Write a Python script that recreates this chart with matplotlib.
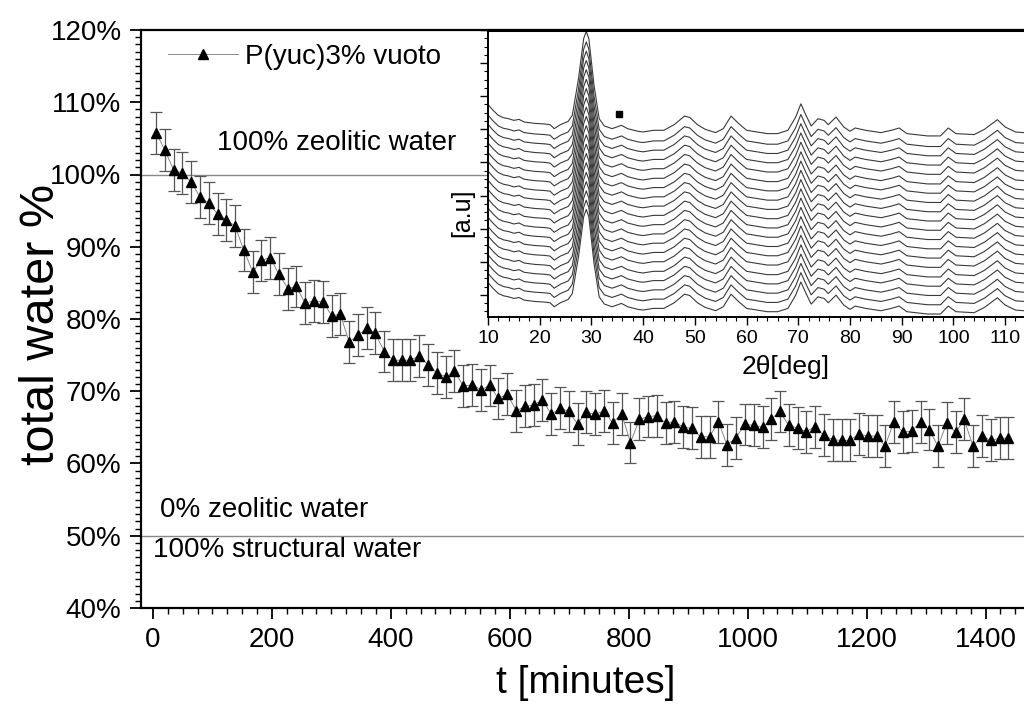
import numpy as np
import matplotlib
matplotlib.use("Agg")
import matplotlib.pyplot as plt
import matplotlib.ticker as ticker

plt.rcParams["font.family"] = ["Liberation Sans", "DejaVu Sans"]

# main series: time [min] vs total water [%]
t_min = [5, 20, 35, 49, 64, 79, 94, 109, 123, 138,
         153, 168, 182, 197, 212, 227, 241, 256, 271, 286,
         301, 315, 330, 345, 360, 374, 389, 404, 419, 433,
         448, 463, 478, 493, 507, 522, 537, 552, 566, 581,
         596, 611, 626, 640, 655, 670, 685, 699, 714, 729,
         744, 759, 773, 788, 803, 818, 832, 847, 862, 877,
         892, 906, 921, 936, 951, 965, 980, 995, 1010, 1025,
         1039, 1054, 1069, 1084, 1098, 1113, 1128, 1143, 1158, 1172,
         1187, 1202, 1217, 1231, 1246, 1261, 1276, 1291, 1305, 1320,
         1335, 1350, 1364, 1379, 1394, 1409, 1424, 1438]
water = [105.8, 103.4, 100.6, 100.2, 99.0, 96.9, 96.0, 94.5, 93.7, 92.9,
         89.5, 86.5, 88.1, 88.5, 86.2, 84.2, 84.5, 82.2, 82.5, 82.4,
         80.4, 80.7, 76.8, 77.8, 78.7, 78.0, 75.5, 74.3, 74.3, 74.3,
         74.9, 73.6, 72.5, 72.0, 72.8, 70.7, 70.9, 70.2, 70.8, 69.0,
         69.6, 67.3, 67.9, 68.1, 68.8, 66.8, 67.7, 67.2, 65.5, 67.1,
         66.8, 67.3, 65.6, 66.9, 62.9, 66.1, 66.5, 66.6, 65.6, 65.8,
         65.0, 64.9, 63.7, 63.7, 65.8, 62.6, 63.5, 65.4, 65.3, 65.0,
         66.1, 67.2, 65.3, 64.9, 64.4, 65.1, 63.9, 63.3, 63.2, 63.2,
         64.1, 63.8, 63.8, 62.4, 65.8, 64.3, 64.5, 65.8, 64.7, 62.4,
         65.6, 64.3, 66.1, 62.4, 63.8, 63.2, 63.5, 63.5]
water_err = 2.9

# inset: XRD pattern (relative to baseline) and stacking offsets
two_theta = [10, 11, 12, 13, 14, 15, 16, 17, 18, 19, 20, 21, 22, 22.8, 24,
             25.5, 26.3, 27.5, 28.5, 29, 29.5, 30.5, 31.5, 32.5, 34, 35.8,
             37, 39, 40, 42, 44, 46, 48, 49, 50.5, 52, 54, 55.5, 57, 58.5,
             60, 62, 64, 66, 68, 69.5, 70.5, 71.5, 72.5, 73.8, 75, 75.8,
             77.3, 78.8, 80, 81, 83, 86, 88, 89.5, 91, 95, 97.5, 99, 100.5,
             104, 106, 108.5, 110, 112, 116]
intensity = [0.83, 0.65, 0.50, 0.43, 0.40, 0.35, 0.38, 0.30, 0.28, 0.26,
             0.25, 0.24, 0.22, 0.10, 0.22, 0.32, 0.50, 1.61, 2.82, 3.04,
             2.82, 1.41, 0.40, 0.18, 0.10, 0.20, 0.10, 0.02, 0.0, 0.05,
             0.05, 0.22, 0.48, 0.44, 0.22, 0.08, -0.02, 0.10, 0.48, 0.25,
             0.05, 0.0, -0.05, -0.05, 0.05, 0.45, 0.85, 0.50, 0.18, 0.40,
             0.35, 0.22, 0.45, 0.15, 0.02, 0.12, 0.05, -0.02, 0.05, 0.12,
             -0.05, -0.12, -0.12, 0.12, -0.05, -0.08, 0.08, 0.37, 0.15, 0.0,
             -0.05]
offsets = [0.54, 0.82, 1.10, 1.38, 1.66, 1.95, 2.23, 2.51, 2.79, 3.07,
           3.35, 3.63, 3.91, 4.19, 4.47, 4.76, 5.04, 5.32, 5.60, 5.92]
marker_pos = (35.3, 6.45)

W, H = 1024, 708
fig = plt.figure(figsize=(W / 100, H / 100), dpi=100)

# main axes (right edge runs past the picture, as in the reference)
ax = fig.add_axes([141 / W, 1 - 608 / H, (1045 - 141) / W, (608 - 30) / H])
ax.errorbar(t_min, water, yerr=water_err, fmt="none", ecolor="#555555",
            elinewidth=0.9, capsize=4.5, capthick=0.9, zorder=2)
ax.plot(t_min, water, color="#777777", lw=0.6, marker="^", ms=7,
        mfc="black", mec="black", label="P(yuc)3% vuoto", zorder=3)

ax.axhline(100, color="#888888", lw=1.0, zorder=1)
ax.axhline(50, color="#888888", lw=1.0, zorder=1)
ax.text(108, 104.4, "100% zeolitic water", fontsize=20, va="center")
ax.text(12, 53.6, "0% zeolitic water", fontsize=20, va="center")
ax.text(0, 48.0, "100% structural water", fontsize=20, va="center")

ax.set_xlim(-20, 1500)
ax.set_ylim(40, 120)
ax.xaxis.set_major_locator(ticker.MultipleLocator(200))
ax.xaxis.set_minor_locator(ticker.MultipleLocator(25))
ax.yaxis.set_major_locator(ticker.MultipleLocator(10))
ax.yaxis.set_minor_locator(ticker.MultipleLocator(1))
ax.yaxis.set_major_formatter(ticker.FuncFormatter(lambda v, _: f"{v:.0f}%"))
ax.tick_params(which="major", direction="out", length=8, width=1.3,
               labelsize=20, pad=6)
ax.tick_params(which="minor", direction="out", length=4, width=1.0)
for s in ax.spines.values():
    s.set_linewidth(1.6)

ax.set_xlabel("t [minutes]", fontsize=28)
ax.xaxis.set_label_coords(0.492, -0.098)
ax.set_ylabel("total water %", fontsize=35)
ax.yaxis.set_label_coords(-0.085, 0.49)

ax.legend(loc="center left", bbox_to_anchor=(0.018, 0.953), frameon=False,
          fontsize=20, handlelength=2.5, handletextpad=0.25,
          borderaxespad=0.0)

# inset with stacked patterns (right part runs past the picture)
ax_in = fig.add_axes([488 / W, 1 - 317 / H, (1031 - 488) / W, (317 - 30) / H])
x_in = np.array(two_theta)
y_in = np.array(intensity)
for off in offsets:
    ax_in.plot(x_in, y_in + off, color="#3a3a3a", lw=0.8)
ax_in.plot(*marker_pos, marker="s", ms=5, color="black")

ax_in.set_xlim(10, 115)
ax_in.set_ylim(0.33, 9.0)
ax_in.xaxis.set_major_locator(ticker.MultipleLocator(10))
ax_in.xaxis.set_minor_locator(ticker.MultipleLocator(2))
ax_in.yaxis.set_major_locator(ticker.MultipleLocator(1))
ax_in.yaxis.set_minor_locator(ticker.MultipleLocator(0.25))
ax_in.tick_params(axis="y", which="both", labelleft=False)
ax_in.tick_params(which="major", direction="out", length=6, width=1.0,
                  labelsize=14, pad=3)
ax_in.tick_params(which="minor", direction="out", length=3, width=0.8)
for s in ax_in.spines.values():
    s.set_linewidth(1.4)
ax_in.spines["top"].set_linewidth(2.2)

ax_in.text(-0.048, 0.362, "[a.u]", transform=ax_in.transAxes, rotation=90,
           ha="center", va="center", fontsize=18)
ax_in.text(0.549, -0.174, "2θ[deg]", transform=ax_in.transAxes,
           ha="center", va="center", fontsize=19)

fig.savefig("out.png", dpi=100)
